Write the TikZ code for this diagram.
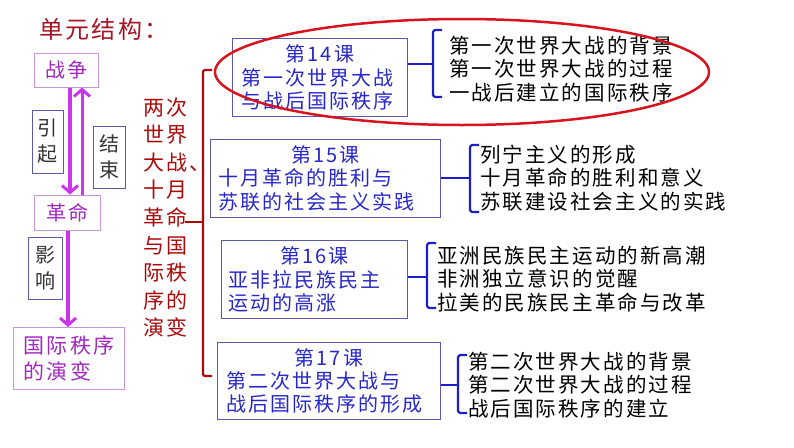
\documentclass[tikz,border=0pt]{standalone}
\usepackage{fontspec}
\setmainfont{Noto Sans CJK SC}[LetterSpace=10]
\usetikzlibrary{arrows.meta}
\definecolor{dred}{RGB}{170,10,10}
\definecolor{titlered}{RGB}{165,20,35}
\definecolor{mag}{RGB}{204,51,238}
\definecolor{purp}{RGB}{160,40,190}
\definecolor{lpurp}{RGB}{200,150,220}
\definecolor{bluebox}{RGB}{90,90,170}
\definecolor{bluetxt}{RGB}{40,40,200}
\definecolor{bluebr}{RGB}{30,30,200}
\definecolor{redell}{RGB}{215,20,30}
\newcommand{\lhead}[1]{\hbox to \hsize{\hfil#1\hfil}}
\tikzset{
  pbox/.style={draw=lpurp, line width=1pt, text=purp, font=\fontsize{20}{26}\selectfont, inner sep=0pt, align=center},
  vbox/.style={draw=bluebox, line width=0.8pt, text=black!80, font=\fontsize{20}{26}\selectfont, inner sep=0pt, align=center},
  lbox/.style={draw=bluebox, line width=0.8pt, text=bluetxt, font=\fontsize{20}{23.2}\selectfont, inner ysep=0pt, align=left, anchor=north west, minimum height=78},
  items/.style={font=\fontsize{20.5}{23.4}\selectfont, align=left, anchor=west, inner sep=0pt, text=black},
  marr/.style={draw=mag, line width=3.5pt, -{Straight Barb[length=7pt,width=16pt,line width=3pt]}},
  bbr/.style={draw=bluebr, line width=2.2pt, rounded corners=2.5pt},
  rbr/.style={draw=dred, line width=2.2pt, rounded corners=2pt},
}
\begin{document}
\begin{tikzpicture}[x=1pt,y=-1pt]
\useasboundingbox (0,0) rectangle (794,447);
% title
\node[anchor=west, inner sep=0pt, text=titlered, font=\fontsize{24}{28}\selectfont] (title) at (39,29) {单元结构：};
% left column
\node[pbox, minimum width=64, minimum height=34] (zz) at (66,70) {战争};
\node[pbox, minimum width=66, minimum height=35] (gm) at (67,212.5) {革命};
\node[pbox, anchor=north west, minimum width=111, minimum height=62, align=left, inner xsep=9pt, font=\fontsize{21}{26}\selectfont] (gj) at (13,327) {国际秩序\\的演变};
\node[vbox, minimum width=31, minimum height=63] (yq) at (47.5,141.5) {引\\起};
\node[vbox, minimum width=32, minimum height=62] (js) at (109,157) {结\\束};
\node[vbox, minimum width=34, minimum height=62] (yx) at (45,268) {影\\响};
\coordinate (xa) at (70,0);
\coordinate (xb) at (82,0);
\coordinate (xc) at (68,0);
\draw[marr] (zz.south -| xa) -- (gm.north -| xa);
\draw[marr, line width=3pt] (gm.north -| xb) -- (zz.south -| xb);
\draw[marr] (gm.south -| xc) -- (gj.north -| xc);
% vertical red text
\node[anchor=west, inner sep=0pt, align=left, text=dred, font=\fontsize{21}{27.6}\selectfont] (vt) at (143,217.5) {两次\\世界\\大战、\\十月\\革命\\与国\\际秩\\序的\\演变};
% red bracket
\coordinate (rt) at (203,70);
\coordinate (rb) at (203,376);
\coordinate (rm) at (203,222);
\coordinate (rl) at (185,222);
\draw[rbr] ([xshift=9pt]rt) -- (rt) -- (rb) -- ([xshift=9pt]rb);
\draw[rbr] (rl) -- (rm);
% lesson boxes
\node[lbox, minimum width=175, inner xsep=9pt, text width=157] (b14) at (232,38) {\lhead{第14课}\\第一次世界大战\\与战后国际秩序};
\node[lbox, minimum width=230, inner xsep=8pt, text width=214] (b15) at (210,139) {\lhead{第15课}\\十月革命的胜利与\\苏联的社会主义实践};
\node[lbox, minimum width=186, inner xsep=7pt, text width=172] (b16) at (221,240) {\lhead{第16课}\\亚非拉民族民主\\运动的高涨};
\node[lbox, minimum width=223, inner xsep=9pt, text width=205, minimum height=77] (b17) at (217,342) {\lhead{第17课}\\第二次世界大战与\\战后国际秩序的形成};
% items
\node[items] (i14) at (449,69) {第一次世界大战的背景\\第一次世界大战的过程\\一战后建立的国际秩序};
\node[items] (i15) at (480,178) {列宁主义的形成\\十月革命的胜利和意义\\苏联建设社会主义的实践};
\node[items] (i16) at (437,279) {亚洲民族民主运动的新高潮\\非洲独立意识的觉醒\\拉美的民族民主革命与改革};
\node[items] (i17) at (468,385) {第二次世界大战的背景\\第二次世界大战的过程\\战后国际秩序的建立};
% blue brackets
\coordinate (k14) at (433,64);  \coordinate (t14) at (433,30);  \coordinate (u14) at (433,97);
\coordinate (k15) at (470,178); \coordinate (t15) at (470,145); \coordinate (u15) at (470,212);
\coordinate (k16) at (427,277); \coordinate (t16) at (427,243); \coordinate (u16) at (427,308);
\coordinate (k17) at (458,385); \coordinate (t17) at (458,355); \coordinate (u17) at (458,413);
\foreach \n in {14,15,16,17}{
  \draw[bbr] (b\n.east |- k\n) -- (k\n);
  \draw[bbr] ([xshift=9pt]t\n) -- (t\n) -- (u\n) -- ([xshift=9pt]u\n);
}
% red ellipse
\draw[redell, line width=2.5pt] (462,72) ellipse [x radius=247, y radius=53];
\end{tikzpicture}
\end{document}
